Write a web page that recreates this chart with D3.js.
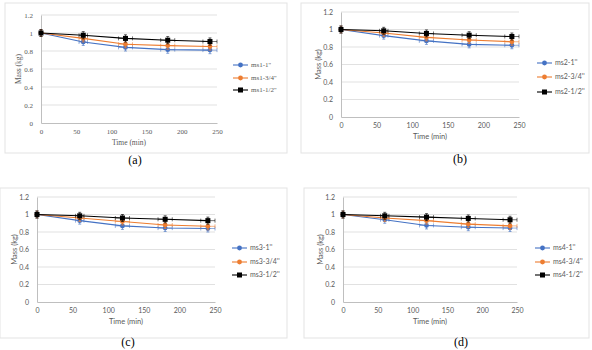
<!DOCTYPE html>
<html>
<head>
<meta charset="utf-8">
<script src="https://cdn.jsdelivr.net/npm/d3@7"></script>
<style>
  body { margin: 0; background: #fff; }
  svg { display: block; }
</style>
</head>
<body>
<script>
var times = [0, 60, 120, 180, 240];
var xTicks = [0, 50, 100, 150, 200, 250];
var yTicks = [0, 0.2, 0.4, 0.6, 0.8, 1, 1.2];
var sizes = ['1\'\'', '3/4\'\'', '1/2\'\''];

var ms1 = [
  [1, 0.90, 0.84, 0.815, 0.81],
  [1, 0.94, 0.875, 0.86, 0.85],
  [1, 0.975, 0.94, 0.92, 0.905]
];
var ms2 = [
  [1, 0.93, 0.87, 0.83, 0.82],
  [1, 0.96, 0.91, 0.88, 0.86],
  [1, 0.985, 0.955, 0.935, 0.92]
];
var ms3 = [
  [1, 0.93, 0.87, 0.845, 0.84],
  [1, 0.96, 0.92, 0.88, 0.865],
  [1, 0.985, 0.96, 0.945, 0.93]
];
var ms4 = [
  [1, 0.94, 0.875, 0.855, 0.845],
  [1, 0.96, 0.93, 0.89, 0.87],
  [1, 0.985, 0.97, 0.955, 0.94]
];
var yErr = [0.04, 0.04, 0.04, 0.04, 0.04];
var xErr = [0, 6, 10, 10, 10];

var colors = ['#4472c4', '#ed7d31', '#000000'];

var panels = [
  {name: 'ms1', data: ms1, tag: '(a)', serif: true,
   box: [5, 3, 287, 153], plot: [41, 15, 217, 123], legX: 233, legY: [65, 78, 90], tagPos: [135, 164]},
  {name: 'ms2', data: ms2, tag: '(b)',
   box: [301, 3, 589, 153], plot: [341, 12, 519, 117], legX: 537, legY: [63, 77, 92], tagPos: [460, 163]},
  {name: 'ms3', data: ms3, tag: '(c)',
   box: [0, 188, 287, 338], plot: [37, 197, 215, 302], legX: 232, legY: [248, 262, 275], tagPos: [128, 346]},
  {name: 'ms4', data: ms4, tag: '(d)',
   box: [304, 188, 589, 338], plot: [343, 197, 517, 302], legX: 535, legY: [248, 262, 275], tagPos: [461, 346]}
];

var svg = d3.select('body').append('svg')
  .attr('width', 592)
  .attr('height', 350);

function drawPanel(p) {
  var font = p.serif ? '"Liberation Serif", serif' : 'Lato, "Open Sans", sans-serif';
  var g = svg.append('g').style('font-family', font);

  g.append('rect')
    .attr('x', p.box[0]).attr('y', p.box[1])
    .attr('width', p.box[2] - p.box[0]).attr('height', p.box[3] - p.box[1])
    .attr('fill', '#fff').attr('stroke', '#e3e3e3').attr('stroke-width', 1);

  var x = d3.scaleLinear().domain([0, 250]).range([p.plot[0], p.plot[2]]);
  var y = d3.scaleLinear().domain([0, 1.2]).range([p.plot[3], p.plot[1]]);

  // gridlines
  g.selectAll('.grid')
    .data(yTicks.slice(1))
    .enter().append('line')
      .attr('x1', p.plot[0]).attr('x2', p.plot[2])
      .attr('y1', function(d) { return y(d); })
      .attr('y2', function(d) { return y(d); })
      .attr('stroke', '#d9d9d9').attr('stroke-width', 0.8);

  var xAxis = d3.axisBottom(x).tickValues(xTicks).tickSize(0).tickPadding(6);
  var yAxis = d3.axisLeft(y).tickValues(yTicks).tickSize(0).tickPadding(8)
    .tickFormat(function(d) { return d3.format('')(d); });

  var xa = g.append('g').attr('transform', 'translate(0,' + p.plot[3] + ')').call(xAxis);
  var ya = g.append('g').attr('transform', 'translate(' + p.plot[0] + ',0)').call(yAxis);
  [xa, ya].forEach(function(a) {
    a.select('.domain').attr('stroke', '#bfbfbf');
    a.selectAll('text').attr('fill', '#595959').style('font-size', '7px')
      .style('font-family', font);
  });

  g.append('text')
    .attr('x', (p.plot[0] + p.plot[2]) / 2)
    .attr('y', p.plot[3] + 22)
    .attr('text-anchor', 'middle')
    .attr('fill', '#595959')
    .style('font-size', '7.5px')
    .text('Time (min)');

  g.append('text')
    .attr('transform', 'translate(' + (p.plot[0] - 20) + ',' + ((p.plot[1] + p.plot[3]) / 2) + ') rotate(-90)')
    .attr('text-anchor', 'middle')
    .attr('fill', '#595959')
    .style('font-size', '7.5px')
    .text('Mass (kg)');

  var line = d3.line()
    .x(function(d, i) { return x(times[i]); })
    .y(function(d) { return y(d); });

  p.data.forEach(function(series, s) {
    var c = colors[s];
    var sg = g.append('g');

    // error bars
    series.forEach(function(v, i) {
      var cx = x(times[i]), cy = y(v);
      var y0 = y(v - yErr[i]), y1 = y(v + yErr[i]);
      sg.append('line').attr('x1', cx).attr('x2', cx).attr('y1', y0).attr('y2', y1)
        .attr('stroke', c).attr('stroke-width', 0.8).attr('opacity', 0.8);
      sg.append('line').attr('x1', cx - 1.5).attr('x2', cx + 1.5).attr('y1', y0).attr('y2', y0)
        .attr('stroke', c).attr('stroke-width', 0.8).attr('opacity', 0.8);
      sg.append('line').attr('x1', cx - 1.5).attr('x2', cx + 1.5).attr('y1', y1).attr('y2', y1)
        .attr('stroke', c).attr('stroke-width', 0.8).attr('opacity', 0.8);
      if (xErr[i] > 0) {
        var xl = x(times[i] - xErr[i]), xr = x(times[i] + xErr[i]);
        sg.append('line').attr('x1', xl).attr('x2', xr).attr('y1', cy).attr('y2', cy)
          .attr('stroke', c).attr('stroke-width', 0.8).attr('opacity', 0.7);
        sg.append('line').attr('x1', xl).attr('x2', xl).attr('y1', cy - 2).attr('y2', cy + 2)
          .attr('stroke', c).attr('stroke-width', 0.8).attr('opacity', 0.7);
        sg.append('line').attr('x1', xr).attr('x2', xr).attr('y1', cy - 2).attr('y2', cy + 2)
          .attr('stroke', c).attr('stroke-width', 0.8).attr('opacity', 0.7);
      }
    });

    sg.append('path')
      .datum(series)
      .attr('d', line)
      .attr('fill', 'none')
      .attr('stroke', c)
      .attr('stroke-width', 1.1);

    if (s === 2) {
      sg.selectAll('.pt')
        .data(series)
        .enter().append('rect')
          .attr('x', function(d, i) { return x(times[i]) - 2.5; })
          .attr('y', function(d) { return y(d) - 2.5; })
          .attr('width', 5).attr('height', 5)
          .attr('fill', c);
    } else {
      sg.selectAll('.pt')
        .data(series)
        .enter().append('circle')
          .attr('cx', function(d, i) { return x(times[i]); })
          .attr('cy', function(d) { return y(d); })
          .attr('r', 2.4)
          .attr('fill', c);
    }

    // legend
    var ly = p.legY[s];
    g.append('line')
      .attr('x1', p.legX).attr('x2', p.legX + 15)
      .attr('y1', ly).attr('y2', ly)
      .attr('stroke', c).attr('stroke-width', 1.1);
    if (s === 2) {
      g.append('rect').attr('x', p.legX + 5).attr('y', ly - 2.5).attr('width', 5).attr('height', 5).attr('fill', c);
    } else {
      g.append('circle').attr('cx', p.legX + 7.5).attr('cy', ly).attr('r', 2.4).attr('fill', c);
    }
    g.append('text')
      .attr('x', p.legX + 18)
      .attr('y', ly)
      .attr('dy', '0.35em')
      .attr('fill', '#595959')
      .style('font-size', '7px')
      .text(p.name + '-' + sizes[s]);
  });

  svg.append('text')
    .attr('x', p.tagPos[0])
    .attr('y', p.tagPos[1])
    .attr('text-anchor', 'middle')
    .style('font-family', '"Liberation Serif", serif')
    .style('font-size', '12px')
    .attr('fill', '#000')
    .text(p.tag);
}

panels.forEach(drawPanel);
</script>
</body>
</html>
